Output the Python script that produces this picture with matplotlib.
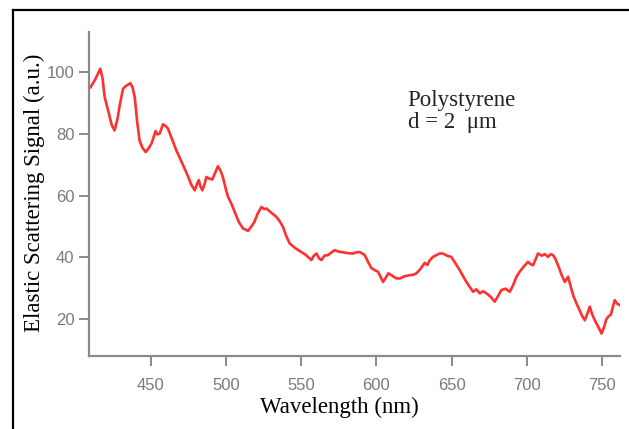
import matplotlib
matplotlib.use("Agg")
from matplotlib import pyplot as plt
from matplotlib.lines import Line2D

# scattering spectrum of a 2 um polystyrene sphere
wavelength = [410, 413, 416.5, 418, 419.4, 422, 424, 426, 428, 429.4, 431.6, 433.5,
              436.5, 438, 439.4, 441, 442.6, 444.5, 446.7, 448.5, 450.5, 452, 453.3,
              454.5, 456, 458.2, 460, 461.5, 464, 467, 470, 472.6, 475, 477, 479.3,
              481, 482, 483, 484.4, 486, 487, 489, 491, 493, 494.7, 496.5, 498, 500,
              501.5, 503.6, 506, 508.5, 511.4, 513, 514.7, 517, 519, 521, 523.6,
              525.5, 527, 530, 533.6, 536, 538, 540, 542.4, 546, 550.2, 553, 556.8,
              558.5, 560.2, 562, 563.5, 565.5, 567.9, 570, 572.3, 575, 578, 580.1,
              584, 587, 589, 592.3, 594.5, 596.7, 599, 601.1, 603, 604.4, 606.5, 608,
              610, 613, 615.6, 618.5, 622.2, 624.4, 626.7, 629, 632.2, 634, 635.5,
              637.6, 640, 642, 644.3, 647, 649.9, 652, 655.5, 657.5, 659.9, 662,
              664.3, 666.5, 668.8, 671, 673.2, 676, 678.7, 681, 683.2, 686, 688.7,
              691, 693, 695.3, 698, 700.8, 702.5, 704.2, 706, 707.5, 710, 712, 714.1,
              716, 717.5, 719, 720.8, 723, 725.3, 727.5, 729.5, 731, 733, 735, 736.8,
              738.6, 740.5, 741.9, 743.5, 745.2, 747.5, 749.7, 751.5, 752.8, 754.1,
              756, 757.3, 758.5, 760, 761.8]
signal = [95.1, 97.5, 101.1, 98, 91.9, 87, 83, 81.1, 85, 89.2, 94.6, 95.5,
          96.4, 95, 91.9, 84, 77.9, 75.5, 74.1, 75.2, 76.8, 79, 80.9,
          79.8, 80.1, 83.1, 82.5, 81.7, 78.5, 74.7, 71.5, 68.7, 66, 63.5, 61.7,
          64, 65, 63, 61.7, 64, 66, 65.5, 65.2, 67.5, 69.5, 68, 66, 62,
          59.5, 57.4, 54.5, 51.5, 49.3, 49, 48.5, 50, 51.5, 54, 56.3,
          55.6, 55.8, 54.5, 53.1, 51.5, 49.8, 47, 44.5, 43, 41.7, 40.8, 39.1,
          40.5, 41.2, 39.6, 39.1, 40.5, 40.7, 41.5, 42.3, 41.8, 41.6, 41.4,
          41.2, 41.6, 41.7, 40.7, 38.5, 36.5, 35.8, 35.3, 33.5, 32.0, 33.5, 34.8,
          34.2, 33.2, 33.1, 33.8, 34.2, 34.3, 34.8, 36, 38.2, 37.5, 39,
          40.1, 40.7, 41.2, 41.2, 40.5, 40.1, 38.5, 35.8, 34, 32, 30.5,
          28.8, 29.6, 28.3, 29, 28.3, 27.2, 25.6, 27.5, 29.4, 29.8, 28.8,
          31, 33.5, 35.3, 37, 38.5, 37.8, 37.4, 39.5, 41.2, 40.5, 41, 40.1,
          41, 40.7, 39.5, 37.4, 34.5, 32, 33.7, 30, 27.5, 25.1, 23, 21,
          19.6, 22, 24, 21.5, 19.6, 17.5, 15.3, 17.5, 19.8, 20.7,
          21.5, 24, 26.1, 25, 24.5]

xticks = [450, 500, 550, 600, 650, 700, 750]
yticks = [20, 40, 60, 80, 100]

AXIS_GREY = '#8a8a8a'
TICK_FONT = ['Liberation Sans Narrow', 'Liberation Sans', 'DejaVu Sans']
SERIF = ['Liberation Serif', 'DejaVu Serif']

fig = plt.figure(figsize=(6.29, 4.29), dpi=100)
ax = fig.add_axes([0.1415, 0.1702, 0.8442, 0.7552])

ax.plot(wavelength, signal, color='#ff3030', lw=1.9, solid_joinstyle='round')

ax.set_xlim(409, 762)
ax.set_ylim(8, 113)
ax.set_xticks(xticks)
ax.set_yticks(yticks)

for side in ['top', 'right']:
    ax.spines[side].set_visible(False)
for side in ['left', 'bottom']:
    ax.spines[side].set_color(AXIS_GREY)
    ax.spines[side].set_linewidth(1.6)

ax.tick_params(axis='both', direction='out', length=7.5, width=1.4,
               color=AXIS_GREY, labelcolor='#7a7a7a', labelsize=12)
ax.tick_params(axis='x', pad=8)
ax.tick_params(axis='y', pad=3)
for lab in ax.get_xticklabels() + ax.get_yticklabels():
    lab.set_family(TICK_FONT)

fig.text(0.539, 0.037, 'Wavelength (nm)', family=SERIF, fontsize=16.5,
         ha='center', va='baseline')
fig.text(0.054, 0.551, 'Elastic Scattering Signal (a.u.)', family=SERIF,
         fontsize=16.5, rotation=90, ha='center', va='center')

# two-line annotation, baseline of the lower line
fig.text(0.648, 0.7016, 'Polystyrene\nd = 2  \u03bcm', family=SERIF,
         fontsize=16.5, color='#222222', ha='left', va='baseline',
         linespacing=1.08)

# border of the surrounding box (top and left edges only)
fig.add_artist(Line2D([13 / 629, 1.0], [1 - 10 / 429, 1 - 10 / 429],
                      transform=fig.transFigure, color='black', lw=1.6))
fig.add_artist(Line2D([13 / 629, 13 / 629], [0.0, 1 - 10 / 429],
                      transform=fig.transFigure, color='black', lw=1.6))

fig.savefig('out.png', dpi=100)
